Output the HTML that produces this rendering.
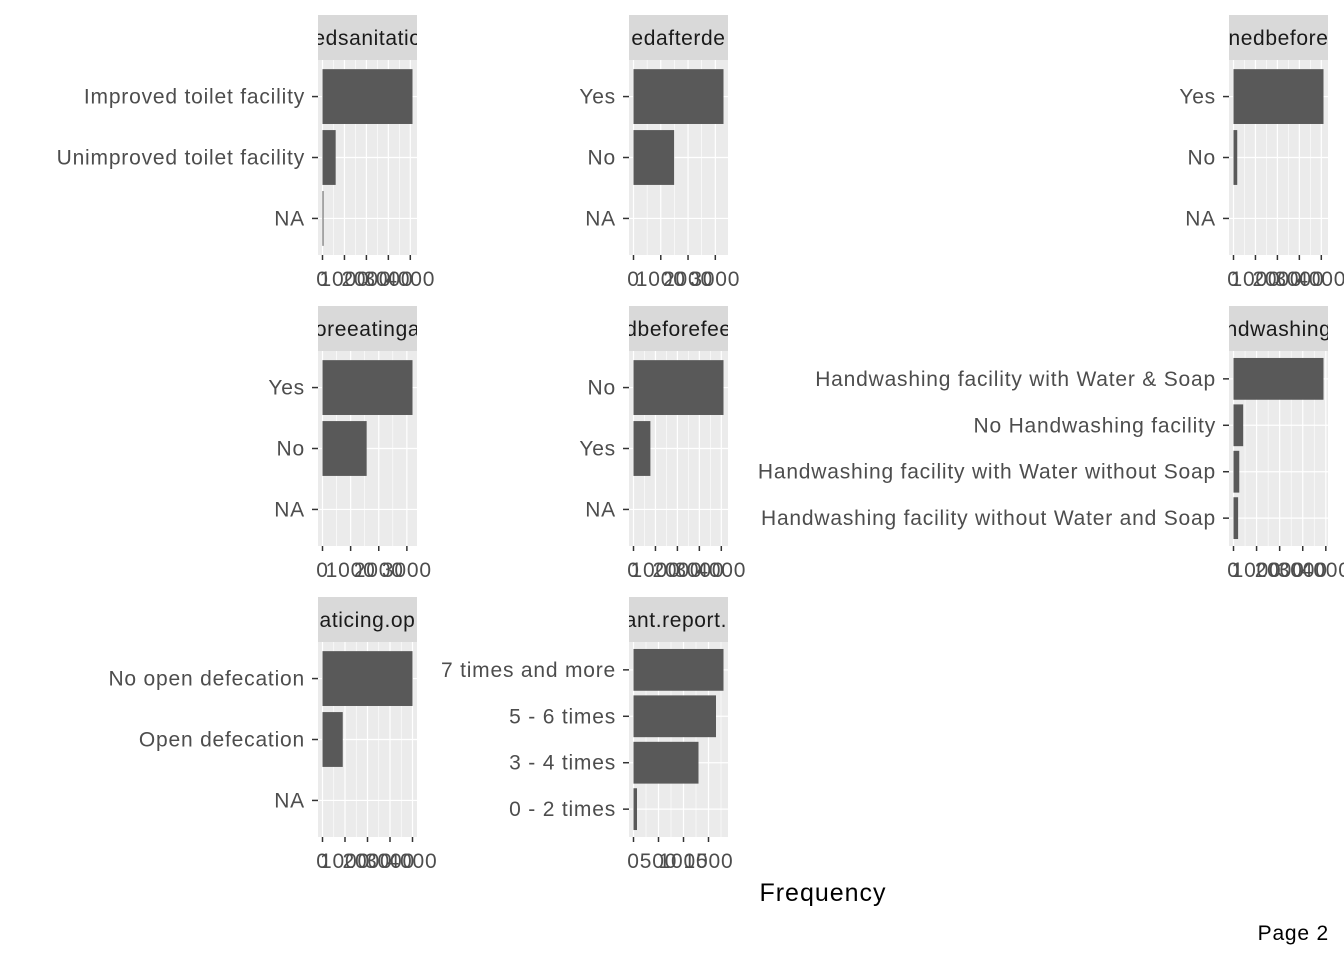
<!DOCTYPE html>
<html><head><meta charset="utf-8">
<style>
body{margin:0;background:#fff;}
svg{display:block;font-family:"Liberation Sans",Arial,sans-serif;}
</style></head>
<body>
<svg id="chart" width="1344" height="960" viewBox="0 0 1344 960">
<text x="823" y="901" font-size="25" letter-spacing="1" text-anchor="middle" fill="#000">Frequency</text>
<text x="1329" y="940" font-size="21" letter-spacing="0.8" text-anchor="end" fill="#000">Page 2</text>
</svg>
<script>
// panel data arrays
const p1Cats = ["Improved toilet facility","Unimproved toilet facility","NA"];
const p1Vals = [4100, 600, 30];
const p1Ticks = [0,1000,2000,3000,4000];
const p2Cats = ["Yes","No","NA"];
const p2Vals = [3300, 1490, 0];
const p2Ticks = [0,1000,2000,3000];
const p3Cats = ["Yes","No","NA"];
const p3Vals = [4100, 170, 0];
const p3Ticks = [0,1000,2000,3000,4000];
const p4Cats = ["Yes","No","NA"];
const p4Vals = [3200, 1570, 0];
const p4Ticks = [0,1000,2000,3000];
const p5Cats = ["No","Yes","NA"];
const p5Vals = [4100, 770, 0];
const p5Ticks = [0,1000,2000,3000,4000];
const p6Cats = ["Handwashing facility with Water & Soap","No Handwashing facility","Handwashing facility with Water without Soap","Handwashing facility without Water and Soap"];
const p6Vals = [3900, 420, 250, 200];
const p6Ticks = [0,1000,2000,3000,4000];
const p7Cats = ["No open defecation","Open defecation","NA"];
const p7Vals = [4000, 900, 0];
const p7Ticks = [0,1000,2000,3000,4000];
const p8Cats = ["7 times and more","5 - 6 times","3 - 4 times","0 - 2 times"];
const p8Vals = [1800, 1650, 1300, 70];
const p8Ticks = [0,500,1000,1500];
const stripLabels = ["edsanitatio","edafterde","nedbefore","oreeatinga","dbeforefee","ndwashing","aticing.op","ant.report.l"];

const NS="http://www.w3.org/2000/svg";
const svg=document.getElementById('chart');
function mk(tag,attrs,parent){const e=document.createElementNS(NS,tag);for(const k in attrs)e.setAttribute(k,attrs[k]);(parent||svg).appendChild(e);return e;}

const colX=[318,629,1229], rowY=[15,306,597], PW=99, SH=45, PH=195;
const panels=[
 [p1Cats,p1Vals,p1Ticks,0,0],[p2Cats,p2Vals,p2Ticks,1,0],[p3Cats,p3Vals,p3Ticks,2,0],
 [p4Cats,p4Vals,p4Ticks,0,1],[p5Cats,p5Vals,p5Ticks,1,1],[p6Cats,p6Vals,p6Ticks,2,1],
 [p7Cats,p7Vals,p7Ticks,0,2],[p8Cats,p8Vals,p8Ticks,1,2]];

panels.forEach((p,i)=>{
 const [cats,vals,ticks,c,r]=p;
 const L=colX[c], T=rowY[r]+SH;
 const g=mk('g',{});
 
 
 const cid='clip'+i;
 const cp=mk('clipPath',{id:cid},g); mk('rect',{x:L,y:rowY[r],width:PW,height:SH},cp);
 const strip=mk('rect',{x:L,y:rowY[r],width:PW,height:SH,fill:'#D9D9D9'},g);
 
 
 const st=mk('text',{x:L+PW/2,y:rowY[r]+30,'font-size':'21','letter-spacing':'0.6','text-anchor':'middle',fill:'#1A1A1A','clip-path':'url(#'+cid+')'},g);
 st.textContent=stripLabels[i];
 
 
 const bg=mk('rect',{x:L,y:T,width:PW,height:PH,fill:'#EBEBEB'},g);
 
 
 const dmax=Math.max(...vals);
 const span=dmax*1.1;
 const xs=v=>L+(v+dmax*0.05)/span*PW;
 const n=cats.length, step=PH/(n+0.2);
 const ys=k=>T+step*0.6+step*k;
 for(let k=0;k<ticks.length;k++){
   const mid=ticks[k]+(ticks[1]-ticks[0])/2;
   if(xs(mid)<L+PW) mk('line',{x1:xs(mid),x2:xs(mid),y1:T,y2:T+PH,stroke:'#fff','stroke-width':0.6},g);
 }
 ticks.forEach(t=>{
   const x=xs(t); if(x>L+PW) return;
   mk('line',{x1:x,x2:x,y1:T,y2:T+PH,stroke:'#fff','stroke-width':1.2},g);
   mk('line',{x1:x,x2:x,y1:T+PH,y2:T+PH+5,stroke:'#333','stroke-width':1.5},g);
   const tl=mk('text',{x:x,y:T+PH+31,'font-size':'21','letter-spacing':'0.8','text-anchor':'middle',fill:'#4D4D4D'},g);
   tl.textContent=String(t);
   
   
 });
 cats.forEach((cat,k)=>{
   const y=ys(k);
   mk('line',{x1:L,x2:L+PW,y1:y,y2:y,stroke:'#fff','stroke-width':1.2},g);
   mk('line',{x1:L-6,x2:L,y1:y,y2:y,stroke:'#333','stroke-width':1.5},g);
   const yl=mk('text',{x:L-13,y:y+7,'font-size':'21','letter-spacing':'0.8','text-anchor':'end',fill:'#4D4D4D'},g);
   yl.textContent=cat;
   
   
   if(vals[k]>0){
     const b=mk('rect',{x:xs(0),y:y-step*0.45,width:Math.max(xs(vals[k])-xs(0),1),height:step*0.9,fill:'#595959'},g);
     
     
   }
 });
});
</script>
</body></html>
